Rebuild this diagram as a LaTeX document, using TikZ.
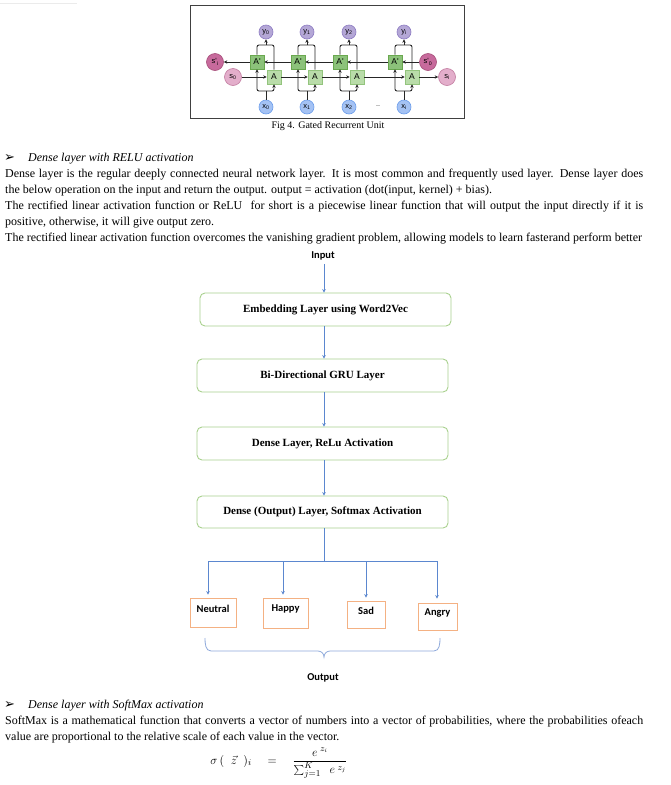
\documentclass[tikz,border=0pt]{standalone}
\usepackage{fontspec}
\setmainfont{Liberation Serif}
\newfontfamily\calib{Carlito}
\newfontfamily\gsans{Liberation Sans}
\newfontfamily\symf{DejaVu Sans}
\usetikzlibrary{arrows.meta}
\definecolor{ypurf}{HTML}{B4A7D6}
\definecolor{ypurd}{HTML}{8E7CC3}
\definecolor{xbluf}{HTML}{A4C2F4}
\definecolor{xblud}{HTML}{6D9EEB}
\definecolor{spf}{HTML}{C76A9C}
\definecolor{spd}{HTML}{A64D79}
\definecolor{sf}{HTML}{E3AECB}
\definecolor{sd}{HTML}{C27BA0}
\definecolor{apf}{HTML}{8CC27A}
\definecolor{apd}{HTML}{6AA84F}
\definecolor{af}{HTML}{B9DCA9}
\definecolor{ad}{HTML}{93C47D}
\definecolor{boxgreen}{HTML}{A9D18E}
\definecolor{boxorange}{HTML}{F4B183}
\definecolor{flowblue}{HTML}{5B87CF}
\definecolor{bracec}{HTML}{8EA9DB}
\begin{document}
\begin{tikzpicture}[x=1pt,y=-1pt,
  gbox/.style={draw, minimum size=14pt, inner sep=0pt, line width=0.6pt, font=\gsans\fontsize{8.5}{8.5}\selectfont},
  apbox/.style={gbox, fill=apf, draw=apd},
  abox/.style={gbox, fill=af, draw=ad},
  gcirc/.style={circle, inner sep=0pt, minimum size=14pt, line width=0.6pt, font=\gsans\fontsize{7.5}{8}\selectfont},
  ycirc/.style={gcirc, fill=ypurf, draw=ypurd},
  xcirc/.style={gcirc, fill=xbluf, draw=xblud},
  spcirc/.style={gcirc, minimum size=17pt, fill=spf, draw=spd},
  scirc/.style={gcirc, minimum size=17pt, fill=sf, draw=sd},
  gw/.style={line width=0.9pt, black!85},
  ga/.style={gw, -{Stealth[length=3.5pt,width=3.5pt]}},
  body/.style={anchor=base west, inner sep=0pt, font=\fontsize{12}{16}\selectfont},
  head/.style={anchor=base west, inner sep=0pt, font=\itshape\fontsize{12}{16}\selectfont},
  bull/.style={anchor=base west, inner sep=0pt, font=\symf\fontsize{13}{14}\selectfont},
  fbox/.style={draw=boxgreen, line width=0.9pt, rounded corners=5pt, minimum width=251pt, minimum height=33pt, inner sep=0pt, font=\bfseries\fontsize{11}{13}\selectfont},
  obox/.style={draw=boxorange, line width=0.9pt, inner sep=0pt},
  lab/.style={font=\calib\bfseries\fontsize{10.5}{12}\selectfont},
  fline/.style={draw=flowblue, line width=0.8pt},
  farr/.style={fline, -{Stealth[length=3.5pt,width=3.5pt]}}
]
\useasboundingbox (0,0) rectangle (670,785);
\fill[white] (0,0) rectangle (670,785);
\draw[black!8, line width=0.8pt] (0,3) -- (77,3);

% ---------- GRU figure ----------
\draw[black!75, line width=0.8pt] (190,5) rectangle (464,118);
\node[spcirc] (spi) at (215,62) {s'\textsubscript{i}};
\node[scirc] (s0) at (233,77) {s\textsubscript{0}};
\node[spcirc] (sp0) at (428,62) {s'\textsubscript{0}};
\node[scirc] (si) at (447,77) {s\textsubscript{i}};
\foreach \k/\cx/\lab in {0/266/0,1/307/1,2/349/2,3/404/i}{
  \node[apbox] (Ap\k) at (\cx-9,62) {A'};
  \node[abox] (A\k) at (\cx+8,77) {A};
  \node[ycirc] (y\k) at (\cx,32) {y\textsubscript{\lab}};
  \node[xcirc] (x\k) at (\cx,107) {x\textsubscript{\lab}};
  \coordinate (jb\k) at (\cx,91);
  \coordinate (jt\k) at (\cx,45);
  \draw[gw] (x\k) -- (jb\k);
  \draw[ga, rounded corners=2pt] (jb\k) -| (Ap\k);
  \draw[ga, rounded corners=2pt] (jb\k) -| (A\k);
  \draw[gw, rounded corners=2pt] (Ap\k) |- (jt\k) -| (A\k);
  \draw[ga] (jt\k) -- (y\k);
}
\node[font=\gsans\fontsize{6}{6}\selectfont, text=black!70] (dots) at (378,107) {--};
\draw[ga] (s0) -- (A0);
\draw[ga] (A0) -- (A1);
\draw[ga] (A1) -- (A2);
\draw[ga] (A2) -- (A3);
\draw[ga] (A3) -- (si);
\draw[ga] (sp0) -- (Ap3);
\draw[ga] (Ap3) -- (Ap2);
\draw[ga] (Ap2) -- (Ap1);
\draw[ga] (Ap1) -- (Ap0);
\draw[ga] (Ap0) -- (spi);
\node[font=\fontsize{10}{12}\selectfont] (cap) at (328,126) {Fig 4. Gated Recurrent Unit};

% ---------- text block 1 ----------
\node[bull] (bu1) at (4,161.5) {➢};
\node[head] (h1) at (28,161.5) {Dense layer with RELU activation};
\node[body] (l1) at (5,177.5) {\makebox[638pt][s]{Dense layer is the regular deeply connected neural network layer. It is most common and frequently used layer. Dense layer does}};
\node[body] (l2) at (5,193.5) {the below operation on the input and return the output. output = activation (dot(input, kernel) + bias).};
\node[body] (l3) at (5,209.5) {\makebox[638pt][s]{The rectified linear activation function or ReLU~ for short is a piecewise linear function that will output the input directly if it is}};
\node[body] (l4) at (5,225.5) {positive, otherwise, it will give output zero.};
\node[body] (l5) at (5,241.5) {The rectified linear activation function overcomes the vanishing gradient problem, allowing models to learn fasterand perform better};

% ---------- flowchart ----------
\coordinate (ax) at (324,0);
\node[lab] (inp) at (323,256) {Input};
\node[fbox] (e1) at (325.5,309.5) {Embedding Layer using Word2Vec};
\node[fbox] (e2) at (322.5,375.5) {Bi-Directional GRU Layer};
\node[fbox] (e3) at (322.5,443.5) {Dense Layer, ReLu Activation};
\node[fbox, minimum height=32pt] (e4) at (322.5,512) {Dense (Output) Layer, Softmax Activation};
\draw[farr] (inp.south -| ax) -- (e1.north -| ax);
\draw[farr] (e1.south -| ax) -- (e2.north -| ax);
\draw[farr] (e2.south -| ax) -- (e3.north -| ax);
\draw[farr] (e3.south -| ax) -- (e4.north -| ax);
\coordinate (jn) at (324,561);
\draw[fline] (e4.south -| ax) -- (jn);

\node[obox, minimum width=46pt, minimum height=29pt, label={[lab, yshift=3.5pt]center:Neutral}] (neu) at (213,612.5) {};
\node[obox, minimum width=45pt, minimum height=30pt, label={[lab, yshift=4pt]center:Happy}] (hap) at (285.5,613) {};
\node[obox, minimum width=38pt, minimum height=27pt, label={[lab, yshift=3.5pt]center:Sad}] (sad) at (366,614.5) {};
\node[obox, minimum width=39pt, minimum height=27pt, label={[lab, yshift=3.5pt]center:Angry}] (ang) at (437.5,616.5) {};
\draw[farr, shorten >=3pt] (jn) -| ([xshift=-5pt]neu.north);
\draw[farr, shorten >=3pt] (jn) -| ([xshift=-2.5pt]hap.north);
\draw[farr, shorten >=3pt] (jn) -| (sad.north);
\draw[farr, shorten >=4pt] (jn) -| ([xshift=-0.5pt]ang.north);

\draw[draw=bracec, line width=0.8pt] (205,638) to[out=-90,in=180] (211,651) -- (318,651) to[out=0,in=90] (324,657) to[out=90,in=180] (330,651) -- (434,651) to[out=0,in=-90] (440,638);
\node[lab] (outp) at (323,678) {Output};

% ---------- text block 2 ----------
\node[bull] (bu2) at (4,708.5) {➢};
\node[head] (h2) at (28,708.5) {Dense layer with SoftMax activation};
\node[body] (l6) at (5,724.5) {\makebox[638pt][s]{SoftMax is a mathematical function that converts a vector of numbers into a vector of probabilities, where the probabilities ofeach}};
\node[body] (l7) at (5,740.5) {value are proportional to the relative scale of each value in the vector.};
\node[font=\fontsize{12.5}{15}\selectfont, inner sep=0pt] (form) at (279,763) {$\sigma\,(\;\;\vec{z}\;\;)_{i}\quad=\quad\displaystyle\frac{e^{\;z_{i}}}{\sum_{j=1}^{K}\;\;e^{\;z_{j}}}$};
\end{tikzpicture}
\end{document}
